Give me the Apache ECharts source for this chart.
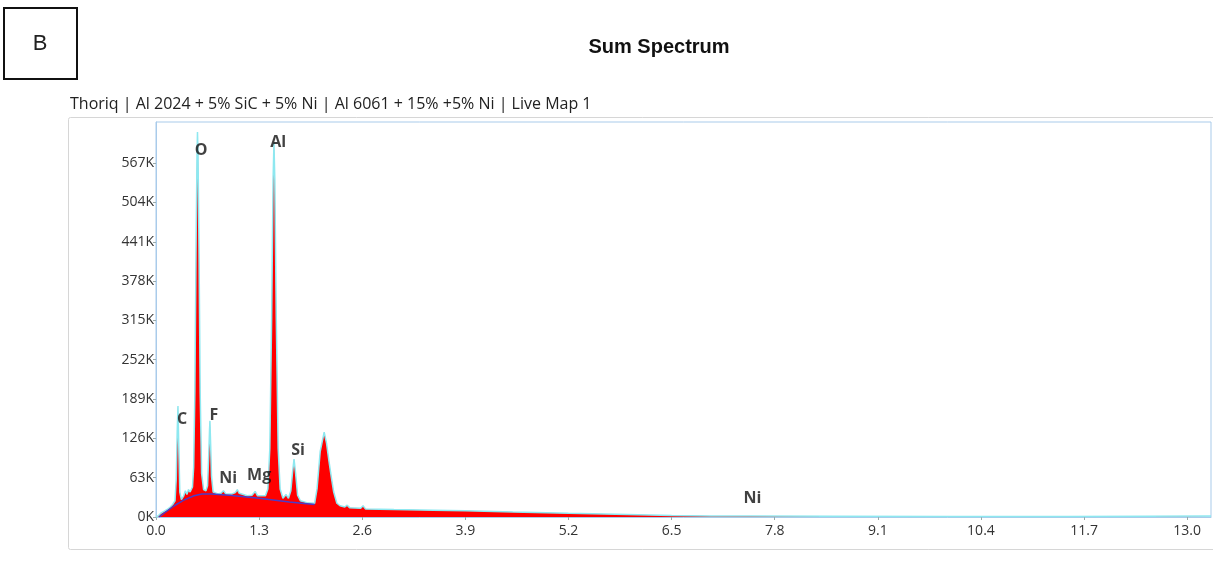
<!DOCTYPE html>
<html>
<head>
<meta charset="utf-8">
<script src="https://cdn.jsdelivr.net/npm/echarts@6/dist/echarts.min.js"></script>
<style>
  html, body { margin: 0; padding: 0; background: #fff; }
  #chart { width: 1213px; height: 563px; }
</style>
</head>
<body>
<div id="chart"></div>
<script>
// spectrum, energy in keV and counts in thousands
const energyKeV = [
  0.00, 0.03, 0.06, 0.10, 0.14, 0.18, 0.21, 0.24, 0.255, 0.268, 0.277, 0.286, 0.30, 0.32, 0.35, 0.37,
  0.39, 0.41, 0.43, 0.46, 0.475, 0.49, 0.505, 0.517, 0.523, 0.53, 0.542, 0.557, 0.575, 0.60, 0.63,
  0.65, 0.665, 0.675, 0.68, 0.688, 0.70, 0.72, 0.78, 0.82, 0.85, 0.88, 0.96, 1.00, 1.025, 1.05, 1.15,
  1.21, 1.25, 1.28, 1.38, 1.41, 1.435, 1.458, 1.476, 1.487, 1.498, 1.516, 1.54, 1.565, 1.60, 1.64,
  1.67, 1.70, 1.72, 1.74, 1.76, 1.785, 1.82, 1.90, 2.00, 2.03, 2.07, 2.12, 2.15, 2.18, 2.21, 2.24,
  2.28, 2.32, 2.38, 2.41, 2.44, 2.58, 2.61, 2.64, 3.0, 3.5, 3.9, 4.5, 5.2, 5.8, 6.5, 7.0, 7.5, 8.5,
  10.0, 11.5, 12.5, 13.3
];
const countsK = [
  0, 2, 6, 9, 12, 16, 20, 26, 60, 140, 178, 120, 40, 28, 34, 42,
  36, 44, 40, 48, 80, 200, 430, 580, 617, 580, 430, 200, 70, 44, 42,
  50, 100, 140, 154, 120, 65, 40, 37, 38, 42, 37, 37, 39, 44, 38, 34,
  35, 41, 34, 34, 45, 110, 320, 540, 600, 540, 320, 110, 45, 30, 36,
  30, 42, 70, 93, 70, 35, 26, 23, 22, 45, 105, 136, 118, 90, 64, 40,
  22, 18, 16, 19, 15, 14, 18, 13, 12, 11, 10, 8, 6, 4.5, 2.5, 1.8, 1.5, 1.2,
  1.0, 1.0, 1.3, 1.5
];

// fitted background
const bgEnergyKeV = [0.04, 0.10, 0.23, 0.35, 0.48, 0.58, 0.70, 0.92, 1.30, 1.68, 2.00];
const bgCountsK = [0, 6, 18, 27, 34, 37, 37, 35, 30, 24, 20];

// element markers
const elementNames = ['C', 'O', 'F', 'Ni', 'Mg', 'Al', 'Si', 'Ni'];
const elementKeV = [0.33, 0.57, 0.73, 0.91, 1.30, 1.54, 1.79, 7.52];
const elementLabelK = [157, 588, 163, 62, 66, 601, 107, 30];

const xTicks = [0, 1.3, 2.6, 3.9, 5.2, 6.5, 7.8, 9.1, 10.4, 11.7, 13.0];
const yTicks = [0, 63, 126, 189, 252, 315, 378, 441, 504, 567];

const pairs = (xs, ys) => xs.map((x, i) => [x, ys[i]]);

const chart = echarts.init(document.getElementById('chart'));
const axisFont = { fontFamily: 'Open Sans', fontSize: 14, color: '#333' };

chart.setOption({
  animation: false,
  backgroundColor: '#fff',
  grid: {
    left: 156, right: 2, top: 122, bottom: 46,
    show: true, borderColor: '#a9cbea', borderWidth: 1, backgroundColor: '#fff'
  },
  xAxis: {
    type: 'value', min: 0, max: 13.3,
    splitLine: { show: false },
    axisLine: { lineStyle: { color: '#a9cbea' } },
    axisTick: { length: 3, customValues: xTicks, lineStyle: { color: '#9aa' } },
    axisLabel: Object.assign({}, axisFont, {
      margin: 7, customValues: xTicks,
      formatter: v => v.toFixed(1)
    })
  },
  yAxis: {
    type: 'value', min: 0, max: 633,
    splitLine: { show: false },
    axisLine: { show: true, lineStyle: { color: '#a9cbea' } },
    axisTick: { show: true, length: 3, customValues: yTicks, lineStyle: { color: '#9aa' } },
    axisLabel: Object.assign({}, axisFont, {
      margin: 2, customValues: yTicks,
      formatter: v => Math.round(v) + 'K'
    })
  },
  series: [
    {
      name: 'Spectrum', type: 'line', data: pairs(energyKeV, countsK),
      symbol: 'none', z: 2,
      lineStyle: { color: '#8ee8f0', width: 1.5 },
      areaStyle: { color: '#ff0000', opacity: 1 }
    },
    {
      name: 'Background', type: 'line', data: pairs(bgEnergyKeV, bgCountsK),
      symbol: 'none', z: 3,
      lineStyle: { color: '#4a3cc8', width: 1.5 }
    },
    {
      name: 'Elements', type: 'scatter', z: 4,
      data: elementNames.map((n, i) => ({ value: [elementKeV[i], elementLabelK[i]], name: n })),
      symbolSize: 1, itemStyle: { color: 'rgba(0,0,0,0)' },
      label: {
        show: true, position: 'inside', formatter: p => p.name,
        fontFamily: 'Open Sans', fontSize: 16, fontWeight: 'bold', color: '#111',
        textBorderWidth: 0
      }
    }
  ],
  graphic: [
    { type: 'rect', shape: { x: 68.5, y: 117.5, width: 1160, height: 432, r: 2 },
      style: { fill: 'none', stroke: '#d6d6d6', lineWidth: 1 }, z: -1 },
    { type: 'rect', shape: { x: 4, y: 8, width: 73, height: 71 },
      style: { fill: '#fff', stroke: '#111', lineWidth: 2 } },
    { type: 'text', x: 40, y: 44,
      style: { text: 'B', fontFamily: 'Liberation Sans', fontSize: 22, fill: '#222',
               textAlign: 'center', textVerticalAlign: 'middle' } },
    { type: 'text', x: 659, y: 47,
      style: { text: 'Sum Spectrum', fontFamily: 'Liberation Sans', fontSize: 20, fontWeight: 'bold',
               fill: '#111', textAlign: 'center', textVerticalAlign: 'middle' } },
    { type: 'text', x: 70, y: 104,
      style: { text: 'Thoriq | Al 2024 + 5% SiC + 5% Ni | Al 6061 + 15% +5% Ni | Live Map 1',
               fontFamily: 'Open Sans', fontSize: 16, fill: '#222', textVerticalAlign: 'middle' } }
  ]
});
</script>
</body>
</html>
